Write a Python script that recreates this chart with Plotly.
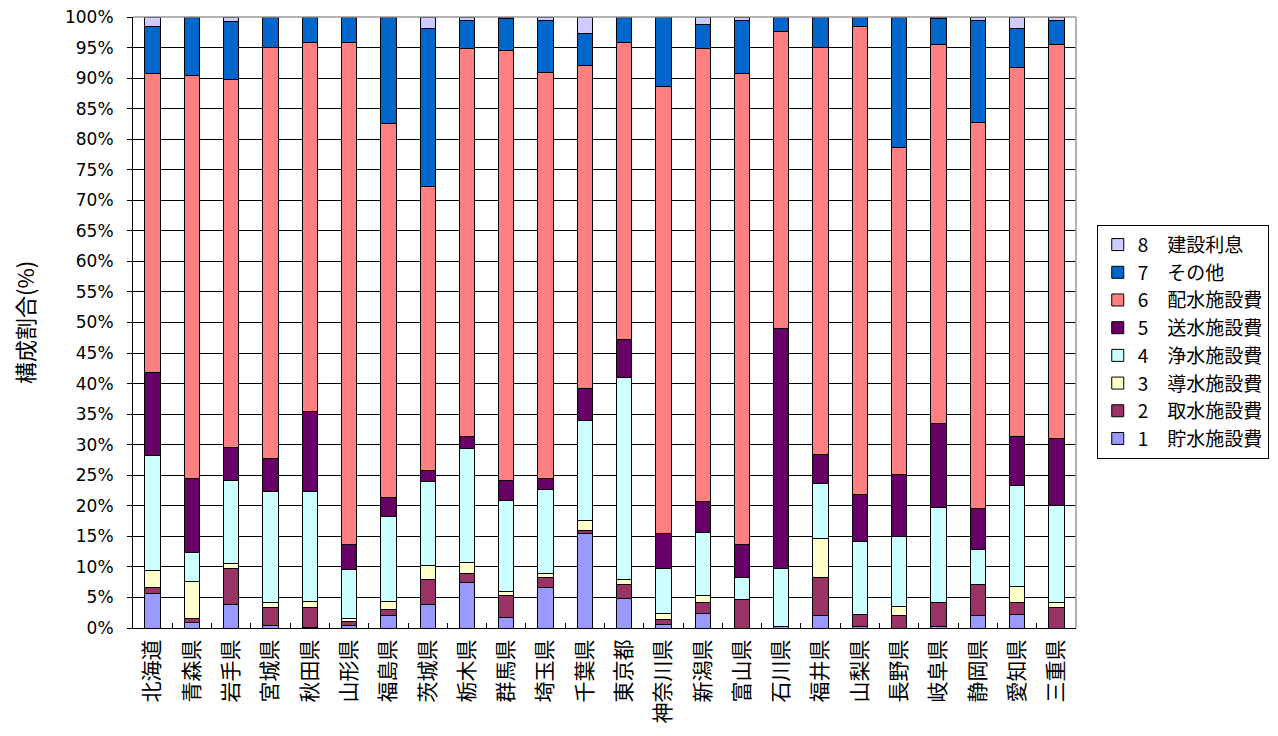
import plotly.graph_objects as go

prefectures = ["北海道", "青森県", "岩手県", "宮城県", "秋田県", "山形県", "福島県", "茨城県",
               "栃木県", "群馬県", "埼玉県", "千葉県", "東京都", "神奈川県", "新潟県", "富山県",
               "石川県", "福井県", "山梨県", "長野県", "岐阜県", "静岡県", "愛知県", "三重県"]

s1_chosui = [5.6, 0.9, 3.9, 0.4, 0.1, 0.4, 2.0, 3.9, 7.4, 1.7, 6.7, 15.4, 4.8, 0.6, 2.4, 0.0,
             0.2, 2.0, 0.2, 0.0, 0.2, 2.0, 2.2, 0.0]
s2_shusui = [1.1, 0.6, 5.8, 2.9, 3.2, 0.7, 1.1, 4.1, 1.6, 3.6, 1.6, 0.5, 2.4, 0.8, 1.7, 4.6,
             0.0, 6.3, 2.0, 2.0, 3.9, 5.1, 1.9, 3.3]
s3_dousui = [2.7, 6.1, 0.8, 0.8, 1.1, 0.4, 1.3, 2.2, 1.7, 0.7, 0.6, 1.7, 0.8, 1.0, 1.2, 0.0,
             0.0, 6.4, 0.0, 1.5, 0.0, 0.1, 2.7, 0.8]
s4_jousui = [18.9, 4.7, 13.7, 18.2, 17.9, 8.1, 13.9, 13.8, 18.7, 14.9, 13.7, 16.3, 33.0, 7.4, 10.4, 3.7,
             9.5, 8.9, 12.0, 11.4, 15.6, 5.6, 16.6, 15.9]
s5_sousui = [13.5, 12.2, 5.3, 5.4, 13.2, 4.1, 3.1, 1.7, 1.9, 3.3, 1.9, 5.3, 6.3, 5.7, 5.0, 5.3,
             39.3, 4.8, 7.6, 10.3, 13.7, 6.7, 7.9, 11.0]
s6_haisui = [49.0, 66.0, 60.3, 67.3, 60.3, 82.1, 61.2, 46.6, 63.6, 70.3, 66.4, 52.8, 48.6, 73.1, 74.2, 77.2,
             48.6, 66.6, 76.6, 53.4, 62.1, 63.3, 60.4, 64.5]
s7_sonota = [7.6, 9.5, 9.4, 5.0, 4.2, 4.2, 17.4, 25.8, 4.6, 5.3, 8.6, 5.3, 4.1, 11.4, 3.8, 8.7,
             2.4, 5.0, 1.6, 21.4, 4.2, 16.7, 6.4, 4.0]
s8_risoku = [1.6, 0.0, 0.8, 0.0, 0.0, 0.0, 0.0, 1.9, 0.5, 0.2, 0.5, 2.7, 0.0, 0.0, 1.3, 0.5,
             0.0, 0.0, 0.0, 0.0, 0.3, 0.5, 1.9, 0.5]

series_names = ["1　貯水施設費", "2　取水施設費", "3　導水施設費", "4　浄水施設費",
                "5　送水施設費", "6　配水施設費", "7　その他", "8　建設利息"]
series_values = [s1_chosui, s2_shusui, s3_dousui, s4_jousui, s5_sousui, s6_haisui, s7_sonota, s8_risoku]
series_colors = ["#9999FF", "#993366", "#FFFFCC", "#CCFFFF", "#660066", "#FF8080", "#0066CC", "#CCCCFF"]

y_ticks = list(range(0, 101, 5))
y_tick_labels = [f"{v}%" for v in y_ticks]

FONT = "Noto Sans CJK JP"
NUMFONT = "DejaVu Sans, Noto Sans CJK JP"

fig = go.Figure()
for name, vals, col in zip(series_names, series_values, series_colors):
    fig.add_trace(go.Bar(
        x=prefectures, y=vals, name=name,
        marker=dict(color=col, line=dict(color="black", width=1)),
        width=0.39,
    ))

fig.update_layout(
    barmode="stack",
    width=1270, height=728,
    margin=dict(l=125, r=194, t=9, b=108),
    paper_bgcolor="white", plot_bgcolor="white",
    font=dict(family=FONT, color="black", size=15),
    showlegend=True,
    legend=dict(
        traceorder="reversed",
        x=1.022, y=0.660, xanchor="left", yanchor="top",
        bordercolor="black", borderwidth=1,
        font=dict(family=FONT, size=19, color="black"),
        itemwidth=30,
        tracegroupgap=0,
    ),
    xaxis=dict(
        automargin=False,
        tickangle=-90,
        tickfont=dict(family=FONT, size=21, color="black"),
        ticklabelstandoff=2,
        showline=True, linecolor="black", linewidth=1,
        ticks="inside", ticklen=5, tickcolor="black", tickson="boundaries",
        showgrid=False,
    ),
    yaxis=dict(
        automargin=False,
        range=[0, 100],
        tickvals=y_ticks, ticktext=y_tick_labels,
        tickfont=dict(family=NUMFONT, size=17, color="black"),
        ticklabelstandoff=10,
        ticklabeloverflow="allow",
        showline=True, linecolor="black", linewidth=1,
        ticks="outside", ticklen=5, tickcolor="black",
        showgrid=True, gridcolor="black", gridwidth=1,
        title=dict(text="構成割合(%)", font=dict(family=FONT, size=22, color="black"), standoff=30),
        zeroline=False,
    ),
    shapes=[
        dict(type="line", xref="paper", yref="paper", x0=0, x1=1, y0=1, y1=1,
             line=dict(color="#999999", width=1.5)),
        dict(type="line", xref="paper", yref="paper", x0=1, x1=1, y0=0, y1=1,
             line=dict(color="#999999", width=1.5)),
    ],
)

fig.write_html("out.html")
